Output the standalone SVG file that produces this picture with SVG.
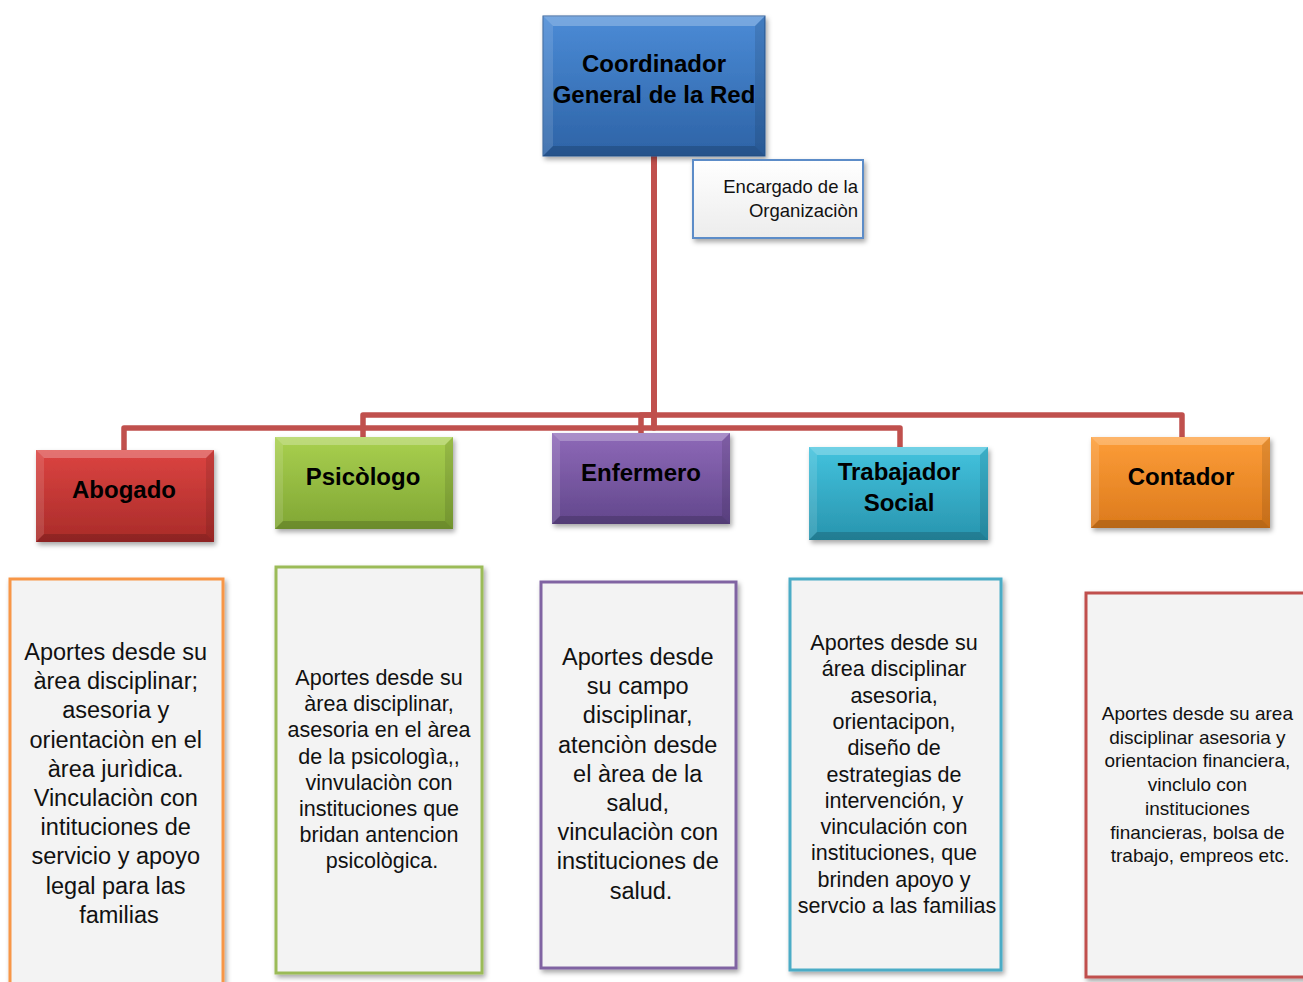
<svg xmlns="http://www.w3.org/2000/svg" width="1303" height="982" viewBox="0 0 1303 982">
<defs>
<filter id="sh" x="-10%" y="-10%" width="125%" height="130%"><feDropShadow dx="2" dy="3" stdDeviation="2.5" flood-color="#000" flood-opacity="0.35"/></filter>
<linearGradient id="gBlue" x1="0" y1="0" x2="0" y2="1"><stop offset="0" stop-color="#4b8bd6"/><stop offset="1" stop-color="#2d63a6"/></linearGradient>
<linearGradient id="gRed" x1="0" y1="0" x2="0" y2="1"><stop offset="0" stop-color="#dc4441"/><stop offset="1" stop-color="#a92b29"/></linearGradient>
<linearGradient id="gGreen" x1="0" y1="0" x2="0" y2="1"><stop offset="0" stop-color="#a9d04f"/><stop offset="1" stop-color="#80a634"/></linearGradient>
<linearGradient id="gPurple" x1="0" y1="0" x2="0" y2="1"><stop offset="0" stop-color="#8e69b8"/><stop offset="1" stop-color="#62478c"/></linearGradient>
<linearGradient id="gTeal" x1="0" y1="0" x2="0" y2="1"><stop offset="0" stop-color="#43c3de"/><stop offset="1" stop-color="#2894ae"/></linearGradient>
<linearGradient id="gOrange" x1="0" y1="0" x2="0" y2="1"><stop offset="0" stop-color="#fd9d38"/><stop offset="1" stop-color="#dc7a1c"/></linearGradient>
<linearGradient id="gWhite" x1="0" y1="0" x2="0" y2="1"><stop offset="0" stop-color="#ffffff"/><stop offset="1" stop-color="#ececec"/></linearGradient>
</defs>
<style>
.conn{fill:none;stroke:#c0504d;stroke-width:5.5;stroke-linejoin:round}
.bt{fill:#fff;fill-opacity:.25}
.bl{fill:#fff;fill-opacity:.12}
.br{fill:#000;fill-opacity:.1}
.bb{fill:#000;fill-opacity:.16}
.lbl{font-family:"Liberation Sans",Arial,sans-serif;font-weight:bold;font-size:24px;fill:#000;text-anchor:middle}
.txt{font-family:"Liberation Sans",Arial,sans-serif;fill:#111;text-anchor:middle}
.tb{fill:#f3f3f3;stroke-width:3}
</style>
<rect width="1303" height="982" fill="#fff"/>
<g id="connectors">
<path class="conn" d="M654,156 V428 H124 V450"/>
<path class="conn" d="M654,156 V415 H363 V437"/>
<path class="conn" d="M654,156 V415 H641 V433"/>
<path class="conn" d="M654,156 V428 H900 V447"/>
<path class="conn" d="M654,156 V415 H1182 V437"/>
</g>
<g id="coordinador">
<rect x="543" y="16" width="222" height="140" fill="url(#gBlue)" stroke="#2a5a96" stroke-width="1" filter="url(#sh)"/>
<polygon class="bt" points="543,16 765,16 755,26 553,26"/>
<polygon class="bl" points="543,16 553,26 553,146 543,156"/>
<polygon class="br" points="765,16 765,156 755,146 755,26"/>
<polygon class="bb" points="543,156 765,156 755,146 553,146"/>
<text class="lbl" x="654" y="72">Coordinador</text>
<text class="lbl" x="654" y="103">General de la Red</text>
</g>
<g id="encargado">
<rect x="693" y="160" width="170" height="78" fill="url(#gWhite)" stroke="#5b8cc8" stroke-width="2" filter="url(#sh)"/>
<text class="txt" style="text-anchor:end" font-size="18.5" x="858" y="193">Encargado de la</text>
<text class="txt" style="text-anchor:end" font-size="18.5" x="858" y="217">Organizaciòn</text>
</g>
<g id="abogado">
<rect x="36" y="450" width="178" height="92" fill="url(#gRed)" filter="url(#sh)"/>
<polygon class="bt" points="36,450 214,450 206,458 44,458"/>
<polygon class="bl" points="36,450 44,458 44,534 36,542"/>
<polygon class="br" points="214,450 214,542 206,534 206,458"/>
<polygon class="bb" points="36,542 214,542 206,534 44,534"/>
<text class="lbl" x="124" y="498">Abogado</text>
</g>
<g id="psicologo">
<rect x="275" y="437" width="178" height="92" fill="url(#gGreen)" filter="url(#sh)"/>
<polygon class="bt" points="275,437 453,437 445,445 283,445"/>
<polygon class="bl" points="275,437 283,445 283,521 275,529"/>
<polygon class="br" points="453,437 453,529 445,521 445,445"/>
<polygon class="bb" points="275,529 453,529 445,521 283,521"/>
<text class="lbl" x="363" y="485">Psicòlogo</text>
</g>
<g id="enfermero">
<rect x="552" y="433" width="178" height="91" fill="url(#gPurple)" filter="url(#sh)"/>
<polygon class="bt" points="552,433 730,433 722,441 560,441"/>
<polygon class="bl" points="552,433 560,441 560,516 552,524"/>
<polygon class="br" points="730,433 730,524 722,516 722,441"/>
<polygon class="bb" points="552,524 730,524 722,516 560,516"/>
<text class="lbl" x="641" y="481">Enfermero</text>
</g>
<g id="trabajador">
<rect x="809" y="447" width="179" height="93" fill="url(#gTeal)" filter="url(#sh)"/>
<polygon class="bt" points="809,447 988,447 980,455 817,455"/>
<polygon class="bl" points="809,447 817,455 817,532 809,540"/>
<polygon class="br" points="988,447 988,540 980,532 980,455"/>
<polygon class="bb" points="809,540 988,540 980,532 817,532"/>
<text class="lbl" x="899" y="480">Trabajador</text>
<text class="lbl" x="899" y="511">Social</text>
</g>
<g id="contador">
<rect x="1091" y="437" width="179" height="91" fill="url(#gOrange)" filter="url(#sh)"/>
<polygon class="bt" points="1091,437 1270,437 1262,445 1099,445"/>
<polygon class="bl" points="1091,437 1099,445 1099,520 1091,528"/>
<polygon class="br" points="1270,437 1270,528 1262,520 1262,445"/>
<polygon class="bb" points="1091,528 1270,528 1262,520 1099,520"/>
<text class="lbl" x="1181" y="485">Contador</text>
</g>
<g id="desc-abogado">
<rect class="tb" x="10" y="579" width="213" height="420" stroke="#f79646" filter="url(#sh)"/>
<text class="txt" font-size="23.5">
<tspan x="119" y="660">Aportes desde su</tspan>
<tspan x="119" y="689.2">àrea disciplinar;</tspan>
<tspan x="119" y="718.4">asesoria y</tspan>
<tspan x="119" y="747.6">orientaciòn en el</tspan>
<tspan x="119" y="776.8">àrea jurìdica.</tspan>
<tspan x="119" y="806">Vinculaciòn con</tspan>
<tspan x="119" y="835.2">intituciones de</tspan>
<tspan x="119" y="864.4">servicio y apoyo</tspan>
<tspan x="119" y="893.6">legal para las</tspan>
<tspan x="119" y="922.8">familias</tspan>
</text>
</g>
<g id="desc-psicologo">
<rect class="tb" x="276" y="567" width="206" height="406" stroke="#9bbb59" filter="url(#sh)"/>
<text class="txt" font-size="21.5">
<tspan x="382" y="685">Aportes desde su</tspan>
<tspan x="382" y="711.2">àrea disciplinar,</tspan>
<tspan x="382" y="737.4">asesoria en el àrea</tspan>
<tspan x="382" y="763.6">de la psicologìa,,</tspan>
<tspan x="382" y="789.8">vinvulaciòn con</tspan>
<tspan x="382" y="816">instituciones que</tspan>
<tspan x="382" y="842.2">bridan antencion</tspan>
<tspan x="382" y="868.4">psicològica.</tspan>
</text>
</g>
<g id="desc-enfermero">
<rect class="tb" x="541" y="582" width="195" height="386" stroke="#8064a2" filter="url(#sh)"/>
<text class="txt" font-size="23.5">
<tspan x="641" y="665">Aportes desde</tspan>
<tspan x="641" y="694.2">su campo</tspan>
<tspan x="641" y="723.4">disciplinar,</tspan>
<tspan x="641" y="752.6">atenciòn desde</tspan>
<tspan x="641" y="781.8">el àrea de la</tspan>
<tspan x="641" y="811">salud,</tspan>
<tspan x="641" y="840.2">vinculaciòn con</tspan>
<tspan x="641" y="869.4">instituciones de</tspan>
<tspan x="641" y="898.6">salud.</tspan>
</text>
</g>
<g id="desc-trabajador">
<rect class="tb" x="790" y="579" width="211" height="391" stroke="#4bacc6" filter="url(#sh)"/>
<text class="txt" font-size="21.5">
<tspan x="897" y="650">Aportes desde su</tspan>
<tspan x="897" y="676.3">área disciplinar</tspan>
<tspan x="897" y="702.6">asesoria,</tspan>
<tspan x="897" y="728.9">orientacipon,</tspan>
<tspan x="897" y="755.2">diseño de</tspan>
<tspan x="897" y="781.5">estrategias de</tspan>
<tspan x="897" y="807.8">intervención, y</tspan>
<tspan x="897" y="834.1">vinculación con</tspan>
<tspan x="897" y="860.4">instituciones, que</tspan>
<tspan x="897" y="886.7">brinden apoyo y</tspan>
<tspan x="897" y="913">servcio a las familias</tspan>
</text>
</g>
<g id="desc-contador">
<rect class="tb" x="1086" y="593" width="232" height="384" stroke="#c0504d" filter="url(#sh)"/>
<text class="txt" font-size="19">
<tspan x="1200" y="720">Aportes desde su area</tspan>
<tspan x="1200" y="743.7">disciplinar asesoria y</tspan>
<tspan x="1200" y="767.4">orientacion financiera,</tspan>
<tspan x="1200" y="791.1">vinclulo con</tspan>
<tspan x="1200" y="814.8">instituciones</tspan>
<tspan x="1200" y="838.5">financieras, bolsa de</tspan>
<tspan x="1200" y="862.2">trabajo, empreos etc.</tspan>
</text>
</g>
</svg>
